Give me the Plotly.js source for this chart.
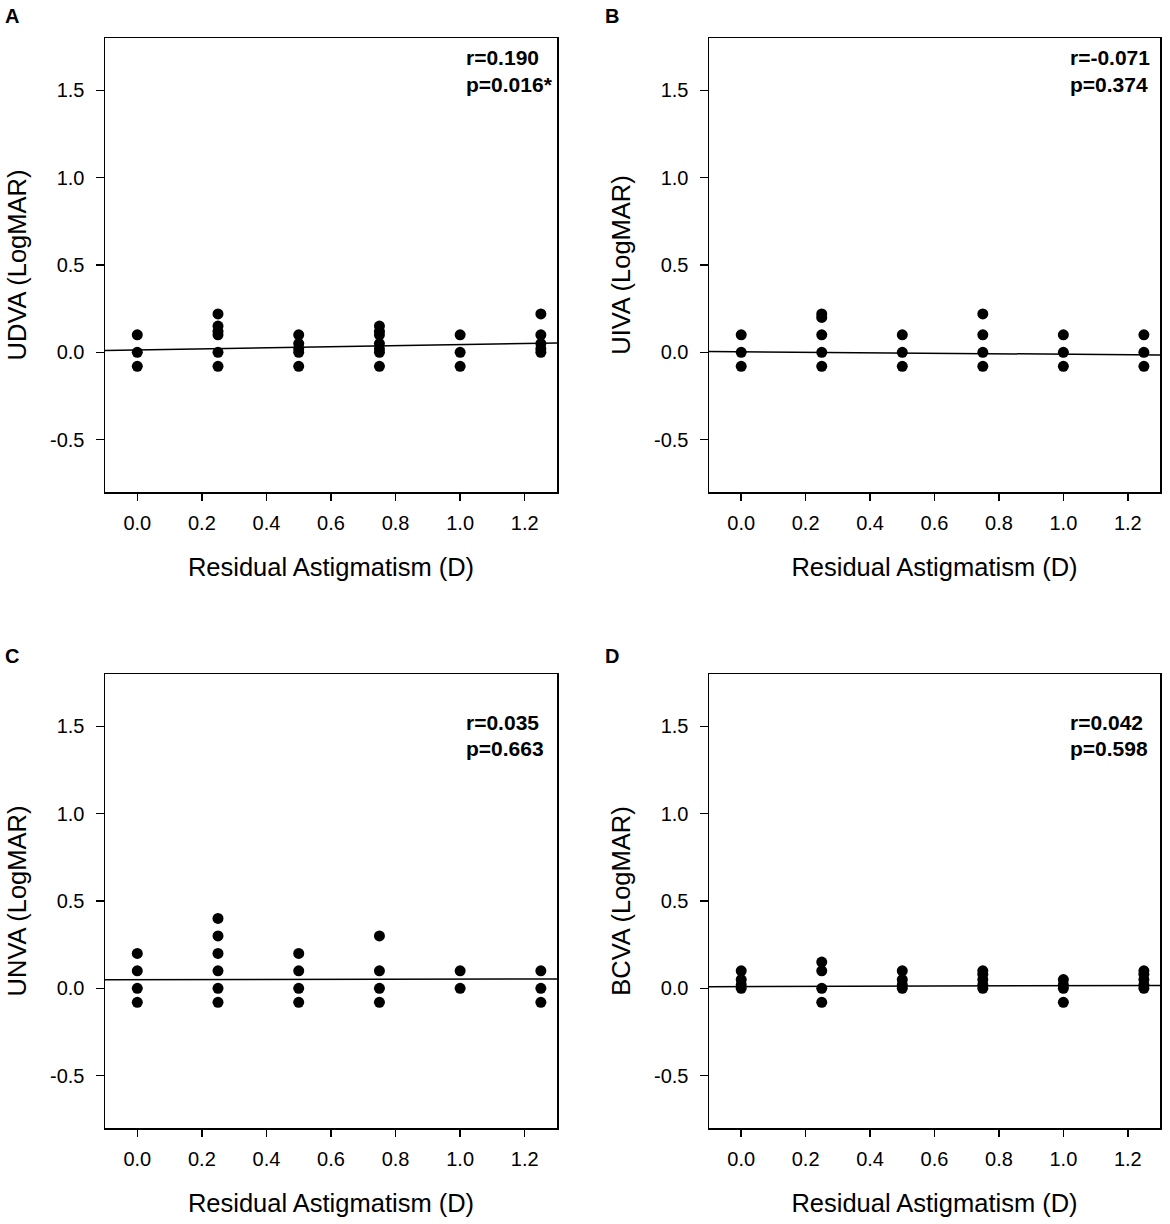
<!DOCTYPE html>
<html>
<head>
<meta charset="utf-8">
<script src="https://cdn.plot.ly/plotly-3.0.1.min.js"></script>
<style>
  html, body { margin: 0; padding: 0; background: #fff; }
  #chart { width: 1170px; height: 1224px; }
</style>
</head>
<body>
<div id="chart"></div>
<script>
// residual astigmatism (D) and LogMAR values
var udvaX = [0, 0, 0,
  0.25, 0.25, 0.25, 0.25, 0.25, 0.25,
  0.5, 0.5, 0.5, 0.5, 0.5,
  0.75, 0.75, 0.75, 0.75, 0.75, 0.75, 0.75,
  1.0, 1.0, 1.0,
  1.25, 1.25, 1.25, 1.25, 1.25];
var udvaY = [0.1, 0, -0.08,
  0.22, 0.15, 0.12, 0.1, 0, -0.08,
  0.1, 0.05, 0.02, 0, -0.08,
  0.15, 0.12, 0.1, 0.05, 0.02, 0, -0.08,
  0.1, 0, -0.08,
  0.22, 0.1, 0.05, 0.02, 0];

var uivaX = [0, 0, 0,
  0.25, 0.25, 0.25, 0.25, 0.25,
  0.5, 0.5, 0.5,
  0.75, 0.75, 0.75, 0.75,
  1.0, 1.0, 1.0,
  1.25, 1.25, 1.25];
var uivaY = [0.1, 0, -0.08,
  0.22, 0.2, 0.1, 0, -0.08,
  0.1, 0, -0.08,
  0.22, 0.1, 0, -0.08,
  0.1, 0, -0.08,
  0.1, 0, -0.08];

var unvaX = [0, 0, 0, 0,
  0.25, 0.25, 0.25, 0.25, 0.25, 0.25,
  0.5, 0.5, 0.5, 0.5,
  0.75, 0.75, 0.75, 0.75,
  1.0, 1.0,
  1.25, 1.25, 1.25];
var unvaY = [0.2, 0.1, 0, -0.08,
  0.4, 0.3, 0.2, 0.1, 0, -0.08,
  0.2, 0.1, 0, -0.08,
  0.3, 0.1, 0, -0.08,
  0.1, 0,
  0.1, 0, -0.08];

var bcvaX = [0, 0, 0, 0,
  0.25, 0.25, 0.25, 0.25,
  0.5, 0.5, 0.5, 0.5,
  0.75, 0.75, 0.75, 0.75, 0.75,
  1.0, 1.0, 1.0, 1.0,
  1.25, 1.25, 1.25, 1.25, 1.25];
var bcvaY = [0.1, 0.05, 0.02, 0,
  0.15, 0.1, 0, -0.08,
  0.1, 0.05, 0.02, 0,
  0.1, 0.08, 0.05, 0.02, 0,
  0.05, 0.02, 0, -0.08,
  0.1, 0.08, 0.05, 0.02, 0];

// regression line per panel (intercept, slope) and stats
var panelNames = ['UDVA', 'UIVA', 'UNVA', 'BCVA'];
var fitIntercept = [0.014, 0.003, 0.05, 0.01];
var fitSlope = [0.03, -0.014, 0.003, 0.005];
var rText = ['r=0.190', 'r=-0.071', 'r=0.035', 'r=0.042'];
var pText = ['p=0.016*', 'p=0.374', 'p=0.663', 'p=0.598'];
var letters = ['A', 'B', 'C', 'D'];

// axis ticks
var yTickVals = [-0.5, 0, 0.5, 1, 1.5];
var yTickText = ['-0.5', '0.0', '0.5', '1.0', '1.5'];

var xsAll = [udvaX, uivaX, unvaX, bcvaX];
var ysAll = [udvaY, uivaY, unvaY, bcvaY];
var xRange = [-0.1, 1.3];
var yRange = [-0.8, 1.8];

var W = 1170, H = 1224;
// pixel frames of each panel: [left, right, top, bottom]
var frames = [[105, 557, 38, 492], [709, 1160, 38, 492],
              [105, 557, 674, 1128], [709, 1160, 674, 1128]];

var fontFam = 'Liberation Sans, Arial, sans-serif';
var data = [];
var layout = {
  width: W, height: H,
  margin: {l: 0, r: 0, t: 0, b: 0},
  paper_bgcolor: '#fff', plot_bgcolor: '#fff',
  showlegend: false,
  font: {family: fontFam, color: '#000'},
  annotations: []
};

for (var i = 0; i < 4; i++) {
  var n = i === 0 ? '' : String(i + 1);
  var f = frames[i];
  data.push({
    x: xsAll[i], y: ysAll[i], xaxis: 'x' + n, yaxis: 'y' + n,
    type: 'scatter', mode: 'markers',
    marker: {color: '#000', size: 11, symbol: 'circle'},
    hoverinfo: 'skip'
  });
  data.push({
    x: xRange,
    y: xRange.map(function (v) { return fitIntercept[i] + fitSlope[i] * v; }),
    xaxis: 'x' + n, yaxis: 'y' + n,
    type: 'scatter', mode: 'lines',
    line: {color: '#000', width: 1.5},
    hoverinfo: 'skip'
  });
  layout['xaxis' + n] = {
    domain: [f[0] / W, f[1] / W], anchor: 'y' + n,
    range: xRange, dtick: 0.2, tick0: 0, tickformat: '.1f',
    showgrid: false, zeroline: false, automargin: false,
    showline: true, mirror: true, linecolor: '#000', linewidth: 1.5,
    ticks: 'outside', ticklen: 7, tickwidth: 1.5, tickcolor: '#000',
    ticklabelstandoff: 5,
    tickfont: {size: 20, family: fontFam, color: '#000'},
    title: {text: 'Residual Astigmatism (D)', standoff: 25,
            font: {size: 25.5, family: fontFam, color: '#000'}}
  };
  layout['yaxis' + n] = {
    domain: [1 - f[3] / H, 1 - f[2] / H], anchor: 'x' + n,
    range: yRange, tickvals: yTickVals, ticktext: yTickText,
    showgrid: false, zeroline: false, automargin: false,
    showline: true, mirror: true, linecolor: '#000', linewidth: 1.5,
    ticks: 'outside', ticklen: 8, tickwidth: 1.5, tickcolor: '#000',
    ticklabelstandoff: 7,
    tickfont: {size: 20, family: fontFam, color: '#000'},
    title: {text: panelNames[i] + ' (LogMAR)', standoff: 16,
            font: {size: 25.5, family: fontFam, color: '#000'}}
  };
  var labelTop = i < 2 ? 0.956 : 0.894;
  layout.annotations.push({
    xref: 'x' + n + ' domain', yref: 'y' + n + ' domain',
    x: 0.795, y: labelTop, xanchor: 'left', yanchor: 'middle', showarrow: false,
    text: '<b>' + rText[i] + '</b>', font: {size: 21, family: fontFam, color: '#000'}
  });
  layout.annotations.push({
    xref: 'x' + n + ' domain', yref: 'y' + n + ' domain',
    x: 0.795, y: labelTop - 0.058, xanchor: 'left', yanchor: 'middle', showarrow: false,
    text: '<b>' + pText[i] + '</b>', font: {size: 21, family: fontFam, color: '#000'}
  });
  layout.annotations.push({
    xref: 'paper', yref: 'paper',
    x: (i % 2 === 0 ? 3 : 603) / W, y: 1 - (i < 2 ? 16 : 656) / H,
    xanchor: 'left', yanchor: 'middle', showarrow: false,
    text: '<b>' + letters[i] + '</b>', font: {size: 20, family: fontFam, color: '#000'}
  });
}

Plotly.newPlot('chart', data, layout, {displayModeBar: false, staticPlot: true});
</script>
</body>
</html>
